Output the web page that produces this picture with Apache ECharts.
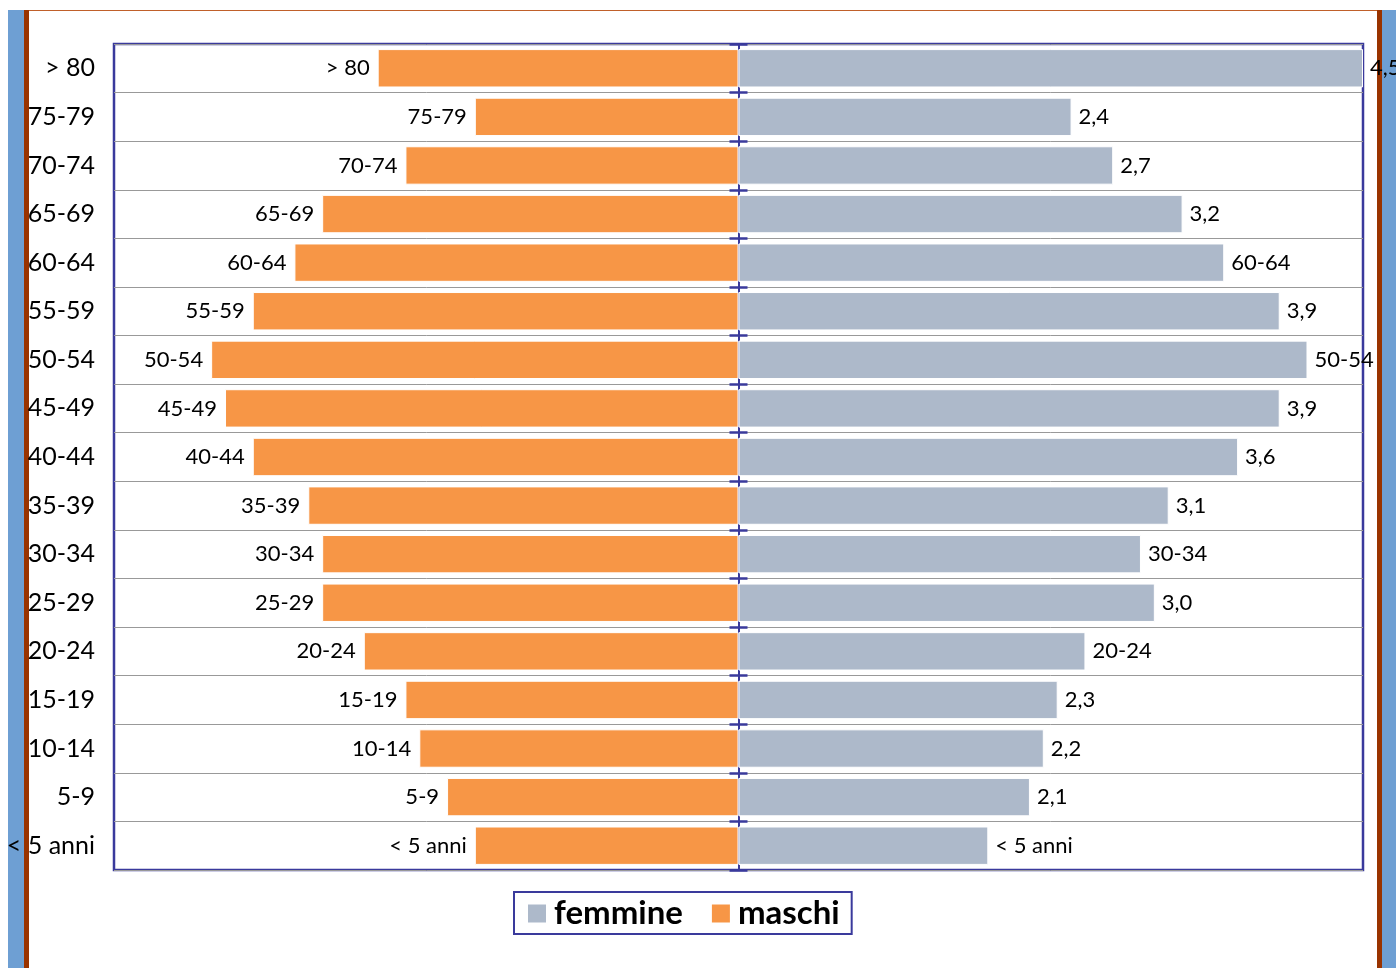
<!DOCTYPE html>
<html>
<head>
<meta charset="utf-8">
<title>Piramide per età</title>
<script src="https://cdn.jsdelivr.net/npm/echarts@6/dist/echarts.min.js"></script>
<style>
  html, body { margin: 0; padding: 0; background: #ffffff; }
  #chart { width: 1396px; height: 968px; }
</style>
</head>
<body>
<div id="chart"></div>
<script>
// Age classes, top to bottom
const categories = ['> 80', '75-79', '70-74', '65-69', '60-64', '55-59', '50-54', '45-49',
  '40-44', '35-39', '30-34', '25-29', '20-24', '15-19', '10-14', '5-9', '< 5 anni'];

// Percentages per age class
const maschi  = [2.6, 1.9, 2.4, 3.0, 3.2, 3.5, 3.8, 3.7, 3.5, 3.1, 3.0, 3.0, 2.7, 2.4, 2.3, 2.1, 1.9];
const femmine = [4.5, 2.4, 2.7, 3.2, 3.5, 3.9, 4.1, 3.9, 3.6, 3.1, 2.9, 3.0, 2.5, 2.3, 2.2, 2.1, 1.8];

// Female bars: true = label shows the value, false = label shows the age class
const femmineShowsValue = [true, true, true, true, false, true, false, true, true, true,
  false, true, false, true, true, true, false];

const FONT = 'Lato, "Open Sans", sans-serif';
const COLOR_M = '#F79646';
const COLOR_F = '#ADB9CA';
const FRAME = '#3a3a9c';

const fmtComma = v => v.toFixed(1).replace('.', ',');

const chart = echarts.init(document.getElementById('chart'), null, { renderer: 'canvas' });

// central axis: category axes drawn at x = 0, ticks crossing it on both sides
const centreAxis = inside => ({
  type: 'category', data: categories, inverse: true, position: 'left',
  axisLine: { show: true, onZero: true, onZeroAxisIndex: 0, lineStyle: { color: FRAME, width: 2 } },
  axisTick: { show: true, inside: inside, length: 9, lineStyle: { color: FRAME, width: 2.5 } },
  axisLabel: { show: false }, splitLine: { show: false }
});

chart.setOption({
  animation: false,
  backgroundColor: '#ffffff',
  textStyle: { fontFamily: FONT },
  graphic: [
    { type: 'rect', z: -10, shape: { x: 8, y: 10, width: 16, height: 958 }, style: { fill: '#6e9fd3' } },
    { type: 'rect', z: -10, shape: { x: 24, y: 10, width: 5, height: 958 }, style: { fill: '#993300' } },
    { type: 'rect', z: -10, shape: { x: 1377, y: 10, width: 5, height: 958 }, style: { fill: '#993300' } },
    { type: 'rect', z: -10, shape: { x: 1382, y: 10, width: 14, height: 958 }, style: { fill: '#6e9fd3' } },
    { type: 'rect', z: -10, shape: { x: 29, y: 10, width: 1348, height: 1 }, style: { fill: '#c0602a' } }
  ],
  grid: {
    left: 114, right: 33, top: 44, bottom: 98,
    show: true, borderColor: FRAME, borderWidth: 2.5, backgroundColor: '#ffffff'
  },
  legend: {
    data: ['femmine', 'maschi'],
    left: 514, top: 892,
    orient: 'horizontal',
    icon: 'rect',
    itemWidth: 20, itemHeight: 20, itemGap: 27,
    padding: [5, 12, 4, 12],
    borderColor: FRAME, borderWidth: 2,
    backgroundColor: '#ffffff',
    textStyle: { fontFamily: FONT, fontSize: 33, fontWeight: 'bold', color: '#000', padding: [0, 0, 0, 2] }
  },
  xAxis: {
    type: 'value', min: -4.5, max: 4.5, interval: 0.5,
    axisLabel: { show: false }, axisLine: { show: false }, axisTick: { show: false },
    splitLine: { show: false }
  },
  yAxis: [
    {
      type: 'category', data: categories, inverse: true,
      position: 'left',
      axisLine: { show: false, onZero: false }, axisTick: { show: false },
      axisLabel: { color: '#000', fontSize: 25, fontFamily: FONT, margin: 19 },
      splitLine: { show: true, lineStyle: { color: '#999999', width: 1 } }
    },
    centreAxis(false),
    centreAxis(true)
  ],
  series: [
    {
      name: 'femmine', type: 'bar', yAxisIndex: 0,
      data: femmine,
      barCategoryGap: '21%', barGap: '-100%',
      itemStyle: { color: COLOR_F, borderColor: '#ffffff', borderWidth: 1 },
      label: {
        show: true, position: 'right', distance: 7,
        color: '#000', fontSize: 22, fontFamily: FONT,
        formatter: p => femmineShowsValue[p.dataIndex] ? fmtComma(p.value) : categories[p.dataIndex]
      }
    },
    {
      name: 'maschi', type: 'bar', yAxisIndex: 0,
      data: maschi.map(v => -v),
      barCategoryGap: '21%', barGap: '-100%',
      itemStyle: { color: COLOR_M, borderColor: '#ffffff', borderWidth: 1 },
      label: {
        show: true, position: 'left', distance: 8,
        color: '#000', fontSize: 22, fontFamily: FONT,
        formatter: p => categories[p.dataIndex]
      }
    }
  ]
});
</script>
</body>
</html>
